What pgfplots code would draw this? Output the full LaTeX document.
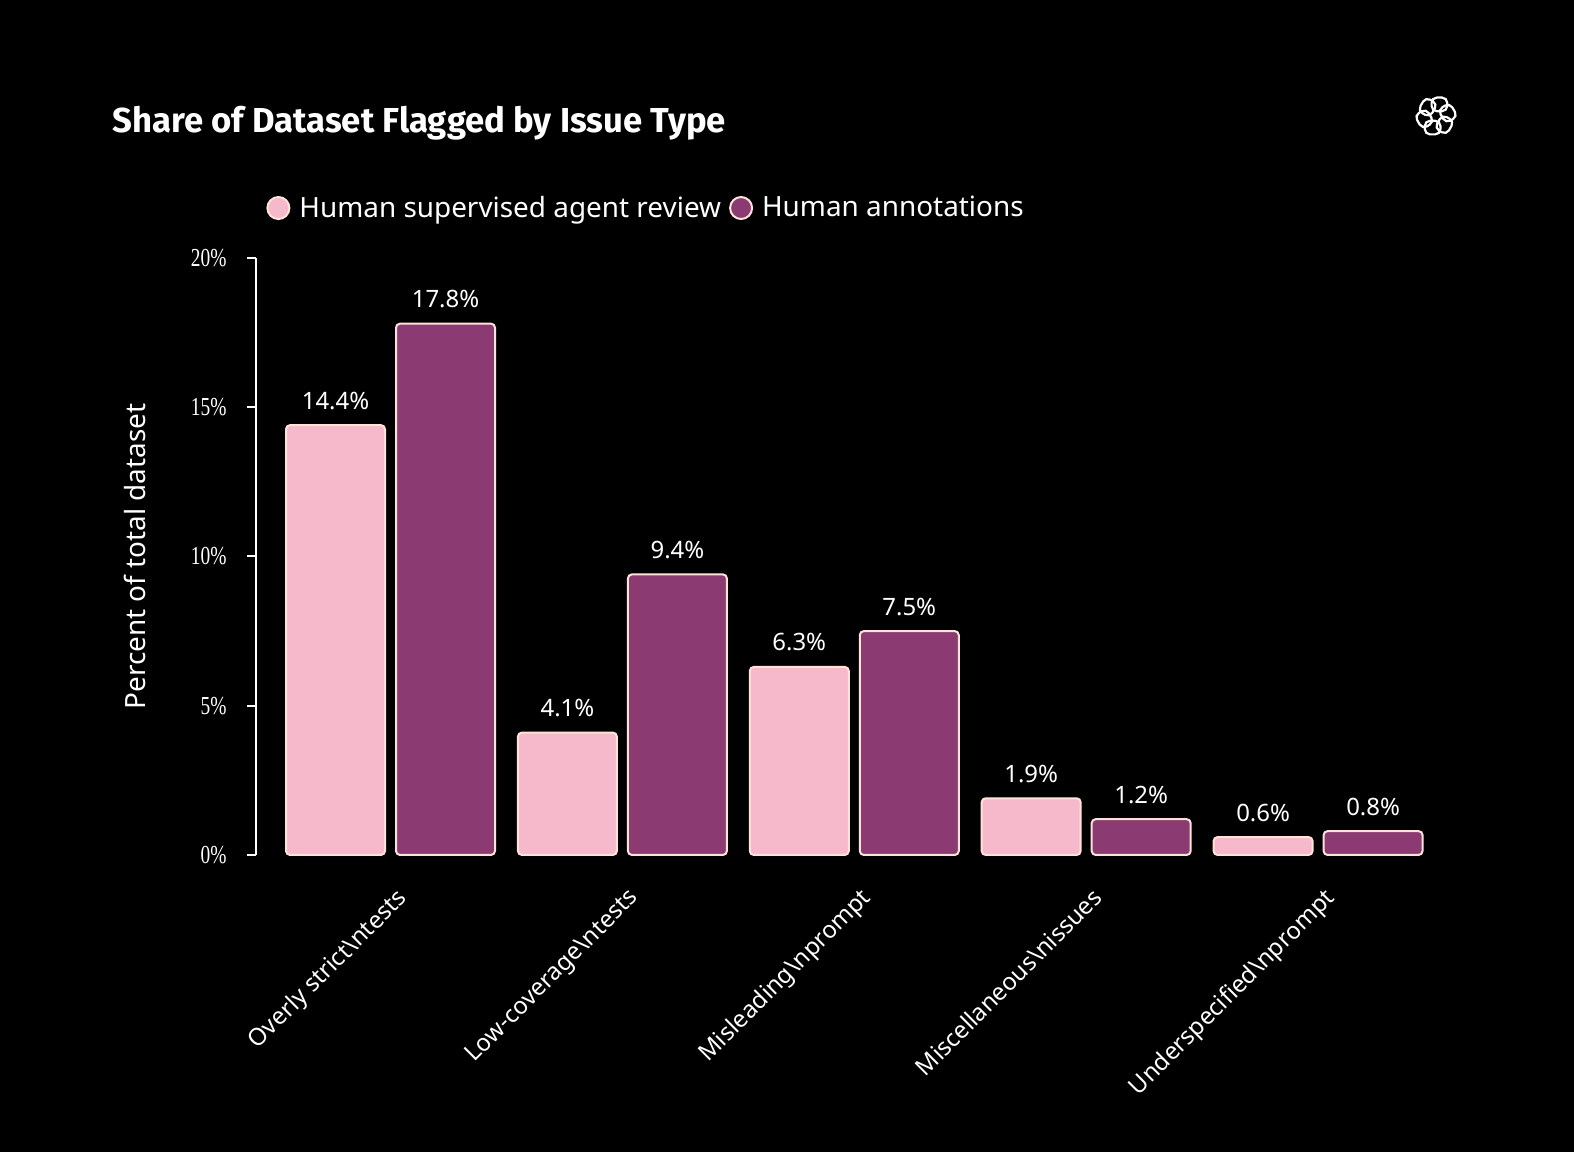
\documentclass[border=0pt]{standalone}
\usepackage{fontspec}
\setmainfont{Noto Sans}
\newfontfamily\titlefont{Fira Sans}
\newfontfamily\tickfont[FakeStretch=0.75]{Liberation Serif}
\usepackage{pgfplots}
\pgfplotsset{compat=1.18}
\definecolor{pinkbar}{HTML}{F5B9CB}
\definecolor{purplebar}{HTML}{8B3A72}
\definecolor{edgec}{HTML}{FFE2D8}
\begin{document}
\begin{tikzpicture}[x=1bp,y=1bp]
\fill[black] (0,0) rectangle (787,576);
\node[anchor=base west, text=white, inner sep=0pt, font=\titlefont\bfseries\fontsize{17.4}{20}\selectfont] at (56,509.5) {Share of Dataset Flagged by Issue Type};
% logo approximation
\foreach \a in {0,60,...,300}{
  \draw[white, line width=1.1bp, rounded corners=2.6bp, shift={(718,518)}, rotate=\a] (-2.2,2.4) rectangle (5.6,9.2);
}
\begin{axis}[
  at={(128bp,148.5bp)}, anchor=south west,
  scale only axis, width=589bp, height=298.5bp,
  xmin=-0.58, xmax=4.5, ymin=0, ymax=20,
  ybar,
  axis x line*=bottom, axis y line*=left,
  x axis line style={draw=none},
  y axis line style={white, line width=1bp, -},
  xtick={0,1,2,3,4},
  xticklabels={Overly strict\textbackslash ntests, Low-coverage\textbackslash ntests, Misleading\textbackslash nprompt, Miscellaneous\textbackslash nissues, Underspecified\textbackslash nprompt},
  x tick style={draw=none},
  xticklabel style={inner sep=0pt, xshift=2.25bp, yshift=-11bp, rotate=45, anchor=north east, text=white, font=\fontsize{12}{14}\selectfont},
  ytick={0,5,10,15,20}, yticklabels={0\%,5\%,10\%,15\%,20\%},
  y tick style={white, line width=1bp},
  major tick length=4.5bp, tick align=outside,
  yticklabel style={text=white, font=\tickfont\fontsize{13}{15}\selectfont, inner sep=0pt, xshift=-10bp},
  ylabel={Percent of total dataset},
  every axis y label/.style={at={(axis description cs:0,0.5)}, xshift=-60.5bp, rotate=90, anchor=center, text=white, font=\fontsize{14}{16}\selectfont},
  /pgf/number format/assume math mode=true,
  nodes near coords={\pgfmathprintnumber[fixed,fixed zerofill,precision=1]{\pgfplotspointmeta}\%},
  every node near coord/.append style={text=white, font=\fontsize{12}{14}\selectfont, anchor=base, inner sep=0pt, yshift=8bp},
  bar width=49.5bp,
  legend columns=2,
  legend style={draw=none, fill=none, text=white, font=\fontsize{14}{16}\selectfont, at={(axis description cs:0.0034,1.0837)}, anchor=west, /tikz/every even column/.append style={column sep=2bp}},
  legend image code/.code={\draw[#1] (0bp,0bp) circle (5.5bp); \path (8bp,0bp);},
  clip=false,
]
\addplot[fill=pinkbar, draw=edgec, line width=1bp, rounded corners=2bp, bar shift=-27.5bp] coordinates {(0,14.4) (1,4.1) (2,6.3) (3,1.9) (4,0.6)};
\addlegendentry{Human supervised agent review}
\addplot[fill=purplebar, draw=edgec, line width=1bp, rounded corners=2bp, bar shift=27.5bp] coordinates {(0,17.8) (1,9.4) (2,7.5) (3,1.2) (4,0.8)};
\addlegendentry{Human annotations}
\end{axis}
\pgfresetboundingbox
\useasboundingbox (0,0) rectangle (787,576);
\end{tikzpicture}
\end{document}
